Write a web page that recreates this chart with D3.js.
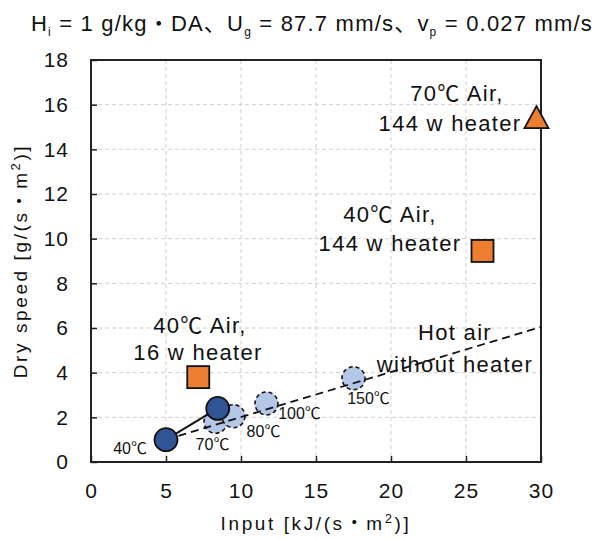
<!DOCTYPE html>
<meta charset="utf-8" />
<script src="https://d3js.org/d3.v7.min.js"></script>
<style>
    body { margin: 0; background: #fff; }
    text { font-family: 'Liberation Sans', 'Noto Sans CJK JP', sans-serif; fill: #111; }
</style>
<div id="my_dataviz"></div>

<script>
    // data
    const xTicks = [0, 5, 10, 15, 20, 25, 30]
    const yTicks = [0, 2, 4, 6, 8, 10, 12, 14, 16, 18]

    // hot air only (light blue, dashed outline)
    const hotX = [8.3, 9.5, 11.7, 17.5]
    const hotY = [1.8, 2.05, 2.62, 3.75]
    const hotLabels = ['70℃', '80℃', '100℃', '150℃']

    // dark blue points (solid line)
    const darkX = [5.0, 8.45]
    const darkY = [1.0, 2.4]
    const darkLabels = ['40℃', '']

    // heater points
    const sqX = [7.15, 26.1]
    const sqY = [3.8, 9.45]
    const triX = [29.7]
    const triY = [15.35]

    // dashed trend line end points
    const trendX = [5.0, 30]
    const trendY = [1.0, 6.05]

    const margin = { top: 60, right: 61, bottom: 77, left: 91 },
        width = 602 - margin.left - margin.right,
        height = 539 - margin.top - margin.bottom

    const root = d3.select('#my_dataviz')
        .append('svg')
        .attr('width', 602)
        .attr('height', 539)

    const svg = root.append('g')
        .attr('transform', `translate(${margin.left},${margin.top})`)

    const x = d3.scaleLinear().domain([0, 30]).range([0, width])
    const y = d3.scaleLinear().domain([0, 18]).range([height, 0])

    // grid
    svg.selectAll('.gx').data(xTicks.slice(1, -1)).join('line')
        .attr('x1', d => x(d)).attr('x2', d => x(d))
        .attr('y1', 0).attr('y2', height)
        .attr('stroke', '#d0d0d0').attr('stroke-dasharray', '4,3')
    svg.selectAll('.gy').data(yTicks.slice(1, -1)).join('line')
        .attr('y1', d => y(d)).attr('y2', d => y(d))
        .attr('x1', 0).attr('x2', width)
        .attr('stroke', '#d0d0d0').attr('stroke-dasharray', '4,3')

    // axes, ticks inside
    const xAxis = svg.append('g')
        .attr('transform', `translate(0,${height})`)
        .call(d3.axisBottom(x).tickValues(xTicks).tickSize(-6).tickPadding(21).tickSizeOuter(0))
    const yAxis = svg.append('g')
        .call(d3.axisLeft(y).tickValues(yTicks).tickSize(-6).tickPadding(22).tickSizeOuter(0))
    ;[xAxis, yAxis].forEach(a => {
        a.select('.domain').remove()
        a.selectAll('line').attr('stroke', '#222').attr('stroke-width', 1.5)
        a.selectAll('text').attr('font-size', 21).style('fill', '#111')
            .style('letter-spacing', '1px')
            .style('font-family', "'Liberation Sans', sans-serif")
    })

    // frame
    svg.append('rect')
        .attr('width', width).attr('height', height)
        .attr('fill', 'none').attr('stroke', '#222').attr('stroke-width', 2)

    // hot air circles
    svg.selectAll('.hot').data(hotX).join('circle')
        .attr('cx', d => x(d)).attr('cy', (d, i) => y(hotY[i]))
        .attr('r', 11.5)
        .attr('fill', '#b4c7e7').attr('stroke', '#111')
        .attr('stroke-width', 1.6).attr('stroke-dasharray', '4,3')

    // trend line
    svg.append('path')
        .datum(trendX)
        .attr('fill', 'none').attr('stroke', '#111')
        .attr('stroke-width', 1.8).attr('stroke-dasharray', '8,5')
        .attr('d', d3.line().x(d => x(d)).y((d, i) => y(trendY[i])))

    // solid line between dark points
    svg.append('path')
        .datum(darkX)
        .attr('fill', 'none').attr('stroke', '#111').attr('stroke-width', 2)
        .attr('d', d3.line().x(d => x(d)).y((d, i) => y(darkY[i])))

    svg.selectAll('.dark').data(darkX).join('circle')
        .attr('cx', d => x(d)).attr('cy', (d, i) => y(darkY[i]))
        .attr('r', 11.5)
        .attr('fill', '#2f5597').attr('stroke', '#111').attr('stroke-width', 1.8)

    // squares
    svg.selectAll('.sq').data(sqX).join('rect')
        .attr('x', d => x(d) - 11).attr('y', (d, i) => y(sqY[i]) - 11)
        .attr('width', 22).attr('height', 22)
        .attr('fill', '#ed7d31').attr('stroke', '#111').attr('stroke-width', 1.8)

    // triangle
    svg.selectAll('.tri').data(triX).join('path')
        .attr('transform', (d, i) => `translate(${x(d)},${y(triY[i])})`)
        .attr('d', 'M0,-13 L12,9 L-12,9 Z')
        .attr('fill', '#ed7d31').attr('stroke', '#111').attr('stroke-width', 1.8)

    // point labels
    const hotOffsets = [[-3, 28], [30, 21], [33, 16], [15, 26]]
    svg.selectAll('.hl').data(hotLabels).join('text')
        .attr('x', (d, i) => x(hotX[i]) + hotOffsets[i][0])
        .attr('y', (d, i) => y(hotY[i]) + hotOffsets[i][1])
        .attr('text-anchor', 'middle').attr('font-size', 16)
        .text(d => d)
    svg.append('text')
        .attr('x', x(darkX[0]) - 19).attr('y', y(darkY[0]) + 14)
        .attr('text-anchor', 'end').attr('font-size', 16)
        .text(darkLabels[0])

    // annotations
    const notes = [
        { t: '70℃ Air,', x: 457, y: 101 },
        { t: '144 w heater', x: 450, y: 131 },
        { t: '40℃ Air,', x: 390, y: 222 },
        { t: '144 w heater', x: 390, y: 251 },
        { t: '40℃ Air,', x: 200, y: 333 },
        { t: '16 w heater', x: 198, y: 360 },
        { t: 'Hot air', x: 455, y: 340 },
        { t: 'without heater', x: 455, y: 372 }
    ]
    root.selectAll('.note').data(notes).join('text')
        .attr('x', d => d.x).attr('y', d => d.y)
        .attr('text-anchor', 'middle').attr('font-size', 22)
        .style('letter-spacing', '1.3px')
        .text(d => d.t)

    // axis titles
    const xt = root.append('text')
        .attr('x', margin.left + width / 2).attr('y', 530)
        .attr('text-anchor', 'middle').attr('font-size', 19)
        .style('letter-spacing', '2.6px')
    xt.append('tspan').text('Input [kJ/(s・m')
    xt.append('tspan').attr('font-size', 13).attr('dy', -7).text('2')
    xt.append('tspan').attr('dy', 7).text(')]')

    const yt = root.append('text')
        .attr('transform', `translate(27,${margin.top + height / 2}) rotate(-90)`)
        .attr('text-anchor', 'middle').attr('font-size', 19)
        .style('letter-spacing', '2.6px')
    yt.append('tspan').text('Dry speed [g/(s・m')
    yt.append('tspan').attr('font-size', 13).attr('dy', -7).text('2')
    yt.append('tspan').attr('dy', 7).text(')]')

    // title
    const tt = root.append('text')
        .attr('x', 312).attr('y', 31)
        .attr('text-anchor', 'middle').attr('font-size', 22)
        .style('letter-spacing', '1.2px')
    tt.append('tspan').text('H')
    tt.append('tspan').attr('font-size', 12).attr('dy', 5).text('i')
    tt.append('tspan').attr('dy', -5).text(' = 1 g/kg・DA、U')
    tt.append('tspan').attr('font-size', 12).attr('dy', 5).text('g')
    tt.append('tspan').attr('dy', -5).text(' = 87.7 mm/s、v')
    tt.append('tspan').attr('font-size', 12).attr('dy', 5).text('p')
    tt.append('tspan').attr('dy', -5).text(' = 0.027 mm/s')
</script>
